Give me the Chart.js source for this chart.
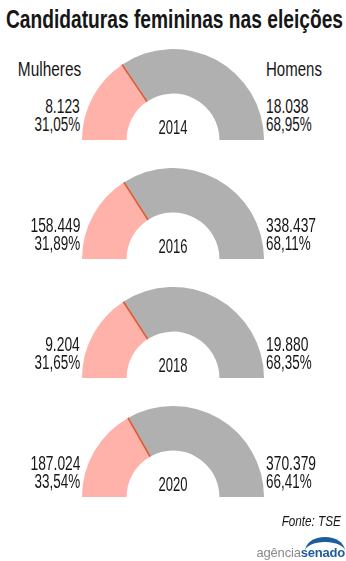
<!DOCTYPE html>
<html>
<head>
<meta charset="utf-8">
<script src="https://cdn.jsdelivr.net/npm/chart.js@4"></script>
<style>
  body { margin: 0; background: #fff; }
  #page { position: relative; width: 346px; height: 561px; overflow: hidden; font-family: "Liberation Sans", Arimo, sans-serif; color: #161616; }
  .t { position: absolute; white-space: nowrap; line-height: 1; }
  canvas { position: absolute; }
</style>
</head>
<body>
<div id="page"></div>
<script>
const years = ["2014", "2016", "2018", "2020"];
const women = [8123, 158449, 9204, 187024];
const men = [18038, 338437, 19880, 370379];
const womenLabels = ["8.123", "158.449", "9.204", "187.024"];
const menLabels = ["18.038", "338.437", "19.880", "370.379"];
const womenPct = ["31,05%", "31,89%", "31,65%", "33,54%"];
const menPct = ["68,95%", "68,11%", "68,35%", "66,41%"];

const page = document.getElementById("page");
const bottoms = [140, 259, 378, 497];

function addText(txt, x, y, align, size, sx, extra) {
  const d = document.createElement("div");
  d.className = "t";
  d.textContent = txt;
  d.style.top = y + "px";
  d.style.fontSize = size + "px";
  if (extra) Object.assign(d.style, extra);
  page.appendChild(d);
  if (align === "right") {
    d.style.right = (346 - x) + "px";
    d.style.transformOrigin = "right top";
    d.style.transform = `scaleX(${sx})`;
  } else if (align === "center") {
    d.style.left = x + "px";
    d.style.transformOrigin = "0 0";
    const w = d.getBoundingClientRect().width * sx;
    d.style.transform = `translateX(${-w / 2}px) scaleX(${sx})`;
  } else {
    d.style.left = x + "px";
    d.style.transformOrigin = "left top";
    d.style.transform = `scaleX(${sx})`;
  }
  return d;
}

// title, squeezed to the width of the original
const title = addText("Candidaturas femininas nas eleições", 6, 7, "left", 25, 1, { fontWeight: "bold" });
title.style.transform = `scaleX(${337 / title.getBoundingClientRect().width})`;

addText("Mulheres", 81, bottoms[0] - 80.5, "right", 19.5, 0.79);
addText("Homens", 266, bottoms[0] - 80.5, "left", 19.5, 0.77);

// red mark on the boundary between the two slices
const divider = {
  id: "divider",
  afterDatasetsDraw(chart) {
    const arc = chart.getDatasetMeta(0).data[0];
    const { x, y, innerRadius, outerRadius, endAngle } =
      arc.getProps(["x", "y", "innerRadius", "outerRadius", "endAngle"], true);
    const ctx = chart.ctx;
    ctx.save();
    ctx.strokeStyle = "#e4572e";
    ctx.lineWidth = 1.6;
    ctx.beginPath();
    ctx.moveTo(x + Math.cos(endAngle) * innerRadius, y + Math.sin(endAngle) * innerRadius);
    ctx.lineTo(x + Math.cos(endAngle) * outerRadius, y + Math.sin(endAngle) * outerRadius);
    ctx.stroke();
    ctx.restore();
  }
};

years.forEach((year, i) => {
  const b = bottoms[i];
  const cv = document.createElement("canvas");
  cv.width = 182;
  cv.height = 91;
  cv.style.left = "82px";
  cv.style.top = (b - 91) + "px";
  page.appendChild(cv);

  new Chart(cv, {
    type: "doughnut",
    data: {
      labels: ["Mulheres", "Homens"],
      datasets: [{
        data: [women[i], men[i]],
        backgroundColor: ["#ffb2aa", "#b0b0b0"],
        borderWidth: 0
      }]
    },
    options: {
      responsive: false,
      animation: false,
      rotation: -90,
      circumference: 180,
      cutout: "51%",
      layout: { padding: 0 },
      plugins: { legend: { display: false }, tooltip: { enabled: false } }
    },
    plugins: [divider]
  });

  addText(womenLabels[i], 80, b - 43.5, "right", 19.5, 0.71);
  addText(womenPct[i], 80, b - 25, "right", 19.5, 0.69);
  addText(menLabels[i], 266, b - 43.5, "left", 19.5, 0.71);
  addText(menPct[i], 266, b - 25, "left", 19.5, 0.69);
  addText(year, 173, b - 22.5, "center", 19.5, 0.67);
});

addText("Fonte: TSE", 341, 513, "right", 15, 0.78, { fontStyle: "italic" });

// agência senado logo
const logo = document.createElement("div");
logo.className = "t";
logo.style.cssText = "position:absolute;right:1px;top:546px;font-size:13px;line-height:1;letter-spacing:-0.2px;";
logo.innerHTML = '<span style="color:#8a8a8a">agência</span><span style="color:#1d5d9c;font-weight:bold">senado</span>';
page.appendChild(logo);
const swoosh = document.createElement("div");
swoosh.style.cssText = "position:absolute;left:305px;top:537px;width:40px;height:14px;border-top:5px solid #1d5d9c;border-radius:50% 50% 0 0 / 100% 100% 0 0;box-sizing:border-box;";
page.appendChild(swoosh);
</script>
</body>
</html>
